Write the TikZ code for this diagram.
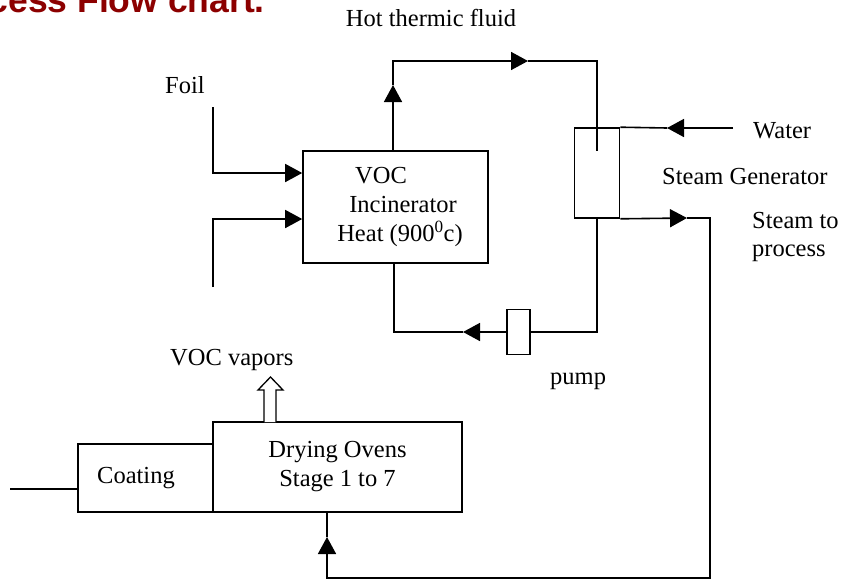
\documentclass[tikz,border=0pt]{standalone}
\usepackage{fontspec}
\setmainfont{Liberation Serif}
\newfontfamily\titlefont{Liberation Sans}
\usetikzlibrary{arrows.meta}
\definecolor{titlered}{RGB}{140,0,0}
\begin{document}
\begin{tikzpicture}[x=1pt,y=-1pt,
  line/.style={line width=1.6pt},
  tip/.style={line width=1.6pt,-{Triangle[length=17pt,width=18pt]}},
  box/.style={draw,line width=1.6pt,inner sep=0pt,align=center,font=\fontsize{24.5}{29}\selectfont},
  lbl/.style={inner sep=0pt,font=\fontsize{24.5}{28}\selectfont}]
\useasboundingbox (0,0) rectangle (845,581);

% title (cut off at the top edge, as in the reference)
\node[inner sep=0pt,anchor=base east,text=titlered,font=\titlefont\bfseries\fontsize{35.5}{38}\selectfont] (title) at (265,12) {Process Flow chart.};

% boxes
\node[box,minimum width=185pt,minimum height=112pt] (inc) at (395.5,207)
  {\hspace*{12pt}VOC\hspace*{41pt}\\\hspace*{15pt}Incinerator\\\hspace*{9pt}Heat (900\textsuperscript{0}c)};
\node[box,minimum width=45pt,minimum height=90pt] (sg) at (597,173) {};
\node[box,minimum width=23pt,minimum height=45pt] (pump) at (518.5,332) {};
\node[box,minimum width=249pt,minimum height=90pt] (ov) at (337.5,467) {Drying Ovens\\Stage 1 to 7};
\node[box,minimum width=135pt,minimum height=68pt] (coat) at (145.5,478) {Coating\hspace*{19pt}};

% labels
\node[lbl,anchor=base] (hot) at (431,26) {Hot thermic fluid};
\node[lbl,anchor=base west] (foil) at (165,93) {Foil};
\node[lbl,anchor=base west] (water) at (753,138) {Water};
\node[lbl,anchor=base west] (sgl) at (662,184) {Steam Generator};
\node[lbl,anchor=north west,align=left] (steam) at (752,212) {Steam to\\process};
\node[lbl,anchor=base west] (pumpl) at (550,384) {pump};
\node[lbl,anchor=base west] (vocv) at (170,365) {VOC vapors};

% coordinates
\coordinate (fa) at (213,107);
\coordinate (fb) at (213,287);
\coordinate (up1) at (393,85);
\coordinate (tl) at (393,61);
\coordinate (t1) at (528,61);
\coordinate (tr) at (597,61);
\coordinate (sgin) at (597,151);
\coordinate (wa) at (733,128);
\coordinate (w1) at (667,128);
\coordinate (s1) at (687,218);
\coordinate (sr) at (710,218);
\coordinate (br) at (710,578);
\coordinate (bl) at (327,578);
\coordinate (b1) at (327,537);
\coordinate (pr) at (597,332);
\coordinate (p1) at (463,332);
\coordinate (pl) at (394,332);
\coordinate (cin) at (10,489);

% foil feeds
\draw[tip] (fa) |- ([yshift=34pt]inc.west);
\draw[tip] (fb) |- ([yshift=-12pt]inc.west);

% hot thermic fluid loop
\draw[tip] ([xshift=-2.5pt]inc.north) -- (up1);
\draw[tip] (up1) -- (tl) -- (t1);
\draw[line] (t1) -- (tr) -- (sgin);

% water
\draw[tip] (wa) -- (w1);
\draw[line] (w1) -- (sg.north east);

% steam to process
\draw[tip] (sg.south east) -- (s1);
\draw[tip] (s1) -- (sr) -- (br) -- (bl) -- (b1);
\draw[line] (b1) -- ([xshift=-10.5pt]ov.south);

% return through pump
\draw[line] (sg.south) -- (pr) -- (pump.east);
\draw[tip] (pump.west) -- (p1);
\draw[line] (p1) -- (pl) -- ([xshift=-1.5pt]inc.south);

% coating input
\draw[line] (cin) -- ([yshift=-11pt]coat.west);

% VOC vapors hollow arrow
\draw[line width=1.3pt,fill=white,line join=miter]
  (264,422) -- (264,390) -- (258,390) -- (270.5,377) -- (283,390) -- (276,390) -- (276,422);
\end{tikzpicture}
\end{document}
